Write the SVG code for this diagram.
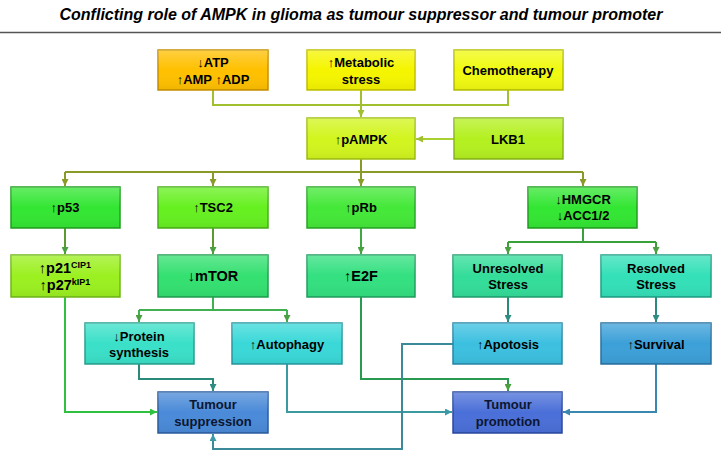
<svg xmlns="http://www.w3.org/2000/svg" width="721" height="461" viewBox="0 0 721 461">
<style>
text{font-family:"Liberation Sans",Arial,sans-serif;font-weight:bold;font-size:13px;fill:#000;text-anchor:middle}
.title{font-size:16px;font-style:italic}
.big{font-size:14.5px}
.sup{font-size:9px}
rect.b{stroke-width:1.5}
.c{fill:none;stroke-width:2}
</style>
<defs>
<linearGradient id="g" x1="0" y1="0" x2="0" y2="1">
<stop offset="0" stop-color="#fff" stop-opacity="0.25"/>
<stop offset="0.5" stop-color="#fff" stop-opacity="0"/>
<stop offset="1" stop-color="#000" stop-opacity="0.06"/>
</linearGradient>
<marker id="aYG" viewBox="0 0 8 8" refX="8" refY="4" markerWidth="7" markerHeight="7" orient="auto" markerUnits="userSpaceOnUse"><path d="M0,0 L8,4 L0,8 z" fill="#a0c030"/></marker>
<marker id="aOl" viewBox="0 0 8 8" refX="8" refY="4" markerWidth="7" markerHeight="7" orient="auto" markerUnits="userSpaceOnUse"><path d="M0,0 L8,4 L0,8 z" fill="#8a9a28"/></marker>
<marker id="aGr" viewBox="0 0 8 8" refX="8" refY="4" markerWidth="7" markerHeight="7" orient="auto" markerUnits="userSpaceOnUse"><path d="M0,0 L8,4 L0,8 z" fill="#4aa040"/></marker>
<marker id="aBG" viewBox="0 0 8 8" refX="8" refY="4" markerWidth="7" markerHeight="7" orient="auto" markerUnits="userSpaceOnUse"><path d="M0,0 L8,4 L0,8 z" fill="#30c040"/></marker>
<marker id="aTe" viewBox="0 0 8 8" refX="8" refY="4" markerWidth="7" markerHeight="7" orient="auto" markerUnits="userSpaceOnUse"><path d="M0,0 L8,4 L0,8 z" fill="#2e8c80"/></marker>
<marker id="aCy" viewBox="0 0 8 8" refX="8" refY="4" markerWidth="7" markerHeight="7" orient="auto" markerUnits="userSpaceOnUse"><path d="M0,0 L8,4 L0,8 z" fill="#3a9aa8"/></marker>
<marker id="aBl" viewBox="0 0 8 8" refX="8" refY="4" markerWidth="7" markerHeight="7" orient="auto" markerUnits="userSpaceOnUse"><path d="M0,0 L8,4 L0,8 z" fill="#3a88b0"/></marker>
</defs>
<rect width="721" height="461" fill="#fff"/>
<text class="title" x="361" y="20">Conflicting role of AMPK in glioma as tumour suppressor and tumour promoter</text>
<line x1="0" y1="32.5" x2="721" y2="32.5" stroke="#555" stroke-width="1.5"/>

<g id="connectors">
<path class="c" stroke="#a0c030" d="M213 90 V105 H508 V90"/>
<path class="c" stroke="#a0c030" d="M361 90 V117" marker-end="url(#aYG)"/>
<path class="c" stroke="#a8d030" d="M454 139 H416" marker-end="url(#aYG)"/>
<path class="c" stroke="#8a9a28" d="M361 159 V172 M65 172 H583"/>
<path class="c" stroke="#8a9a28" d="M65 172 V186" marker-end="url(#aOl)"/>
<path class="c" stroke="#8a9a28" d="M213 172 V186" marker-end="url(#aOl)"/>
<path class="c" stroke="#8a9a28" d="M361 172 V186" marker-end="url(#aOl)"/>
<path class="c" stroke="#8a9a28" d="M583 172 V186" marker-end="url(#aOl)"/>
<path class="c" stroke="#5a9a30" d="M65 228 V254" marker-end="url(#aGr)"/>
<path class="c" stroke="#5a9a30" d="M213 228 V254" marker-end="url(#aGr)"/>
<path class="c" stroke="#40a840" d="M361 228 V254" marker-end="url(#aGr)"/>
<path class="c" stroke="#3aa03a" d="M583 228 V242 M508 242 H656"/>
<path class="c" stroke="#3aa03a" d="M508 242 V254" marker-end="url(#aGr)"/>
<path class="c" stroke="#3aa03a" d="M656 242 V254" marker-end="url(#aGr)"/>
<path class="c" stroke="#40b050" d="M213 297 V310 M139 310 H287"/>
<path class="c" stroke="#40b050" d="M139 310 V322" marker-end="url(#aGr)"/>
<path class="c" stroke="#40b050" d="M287 310 V322" marker-end="url(#aGr)"/>
<path class="c" stroke="#2a8a78" d="M508 297 V322" marker-end="url(#aTe)"/>
<path class="c" stroke="#2a8a80" d="M656 297 V322" marker-end="url(#aTe)"/>
<path class="c" stroke="#30c040" d="M65 297 V412 H157" marker-end="url(#aBG)"/>
<path class="c" stroke="#2a8a7a" d="M139 364 V379 H213 V391" marker-end="url(#aTe)"/>
<path class="c" stroke="#3a9aa0" d="M287 364 V412 H452" marker-end="url(#aCy)"/>
<path class="c" stroke="#2a9a50" d="M361 297 V379 H508 V391" marker-end="url(#aGr)"/>
<path class="c" stroke="#3a8a9a" d="M453 344 H402 V449 H213 V434" marker-end="url(#aCy)"/>
<path class="c" stroke="#3a88b0" d="M656 364 V412 H563" marker-end="url(#aBl)"/>
</g>

<g id="atp"><rect class="b" x="158" y="50" width="110" height="40" fill="#ffc000" stroke="#c89000"/><rect x="158" y="50" width="110" height="40" fill="url(#g)"/><text x="213" y="67">↓ATP</text><text x="213" y="84">↑AMP ↑ADP</text></g>
<g id="metabolic"><rect class="b" x="307" y="50" width="108" height="40" fill="#f5f500" stroke="#c0c000"/><rect x="307" y="50" width="108" height="40" fill="url(#g)"/><text x="361" y="67">↑Metabolic</text><text x="361" y="84">stress</text></g>
<g id="chemo"><rect class="b" x="454" y="50" width="109" height="40" fill="#f0fa10" stroke="#b8c000"/><rect x="454" y="50" width="109" height="40" fill="url(#g)"/><text x="508" y="75">Chemotherapy</text></g>

<g id="pampk"><rect class="b" x="307" y="118" width="108" height="41" fill="#d2f51e" stroke="#a0c010"/><rect x="307" y="118" width="108" height="41" fill="url(#g)"/><text x="361" y="144">↑pAMPK</text></g>
<g id="lkb1"><rect class="b" x="454" y="118" width="109" height="41" fill="#b4f020" stroke="#88b818"/><rect x="454" y="118" width="109" height="41" fill="url(#g)"/><text x="508" y="144">LKB1</text></g>

<g id="p53"><rect class="b" x="11" y="187" width="109" height="41" fill="#33e633" stroke="#20a020"/><rect x="11" y="187" width="109" height="41" fill="url(#g)"/><text x="65" y="212">↑p53</text></g>
<g id="tsc2"><rect class="b" x="158" y="187" width="110" height="41" fill="#66f020" stroke="#48b018"/><rect x="158" y="187" width="110" height="41" fill="url(#g)"/><text x="213" y="212">↑TSC2</text></g>
<g id="prb"><rect class="b" x="307" y="187" width="108" height="41" fill="#44e838" stroke="#28a828"/><rect x="307" y="187" width="108" height="41" fill="url(#g)"/><text x="361" y="212">↑pRb</text></g>
<g id="hmgcr"><rect class="b" x="528" y="187" width="109" height="41" fill="#33e633" stroke="#20a020"/><rect x="528" y="187" width="109" height="41" fill="url(#g)"/><text x="583" y="204">↓HMGCR</text><text x="583" y="220">↓ACC1/2</text></g>

<g id="p21"><rect class="b" x="11" y="255" width="109" height="42" fill="#9bf020" stroke="#70b818"/><rect x="11" y="255" width="109" height="42" fill="url(#g)"/><text class="big" x="65" y="273">↑p21<tspan class="sup" dy="-5">CIP1</tspan></text><text class="big" x="65" y="290">↑p27<tspan class="sup" dy="-5">kIP1</tspan></text></g>
<g id="mtor"><rect class="b" x="158" y="255" width="110" height="42" fill="#33e070" stroke="#20a050"/><rect x="158" y="255" width="110" height="42" fill="url(#g)"/><text class="big" x="213" y="281">↓mTOR</text></g>
<g id="e2f"><rect class="b" x="307" y="255" width="108" height="42" fill="#33e080" stroke="#20a060"/><rect x="307" y="255" width="108" height="42" fill="url(#g)"/><text class="big" x="361" y="281">↑E2F</text></g>
<g id="unresolved"><rect class="b" x="453" y="255" width="109" height="42" fill="#33dd99" stroke="#20a070"/><rect x="453" y="255" width="109" height="42" fill="url(#g)"/><text x="508" y="273">Unresolved</text><text x="508" y="289">Stress</text></g>
<g id="resolved"><rect class="b" x="601" y="255" width="110" height="42" fill="#33e0b8" stroke="#20a088"/><rect x="601" y="255" width="110" height="42" fill="url(#g)"/><text x="656" y="273">Resolved</text><text x="656" y="289">Stress</text></g>

<g id="protein"><rect class="b" x="85" y="323" width="109" height="41" fill="#3ae0c8" stroke="#28a090"/><rect x="85" y="323" width="109" height="41" fill="url(#g)"/><text x="139" y="341">↓Protein</text><text x="139" y="357">synthesis</text></g>
<g id="autophagy"><rect class="b" x="232" y="323" width="110" height="41" fill="#3ad8d8" stroke="#2898a0"/><rect x="232" y="323" width="110" height="41" fill="url(#g)"/><text x="287" y="349">↑Autophagy</text></g>
<g id="apoptosis"><rect class="b" x="453" y="323" width="109" height="41" fill="#3cc0e0" stroke="#2888a8"/><rect x="453" y="323" width="109" height="41" fill="url(#g)"/><text x="508" y="349">↑Apotosis</text></g>
<g id="survival"><rect class="b" x="601" y="323" width="110" height="41" fill="#3ca0d8" stroke="#2870a0"/><rect x="601" y="323" width="110" height="41" fill="url(#g)"/><text x="656" y="349">↑Survival</text></g>

<g id="suppression"><rect class="b" x="158" y="392" width="110" height="41" fill="#4a8ad8" stroke="#2a5ca0"/><rect x="158" y="392" width="110" height="41" fill="url(#g)"/><text x="213" y="409" style="fill:#0c1630">Tumour</text><text x="213" y="426" style="fill:#0c1630">suppression</text></g>
<g id="promotion"><rect class="b" x="453" y="392" width="109" height="41" fill="#4a6fd8" stroke="#2a48a0"/><rect x="453" y="392" width="109" height="41" fill="url(#g)"/><text x="508" y="409" style="fill:#0c1630">Tumour</text><text x="508" y="426" style="fill:#0c1630">promotion</text></g>
</svg>
